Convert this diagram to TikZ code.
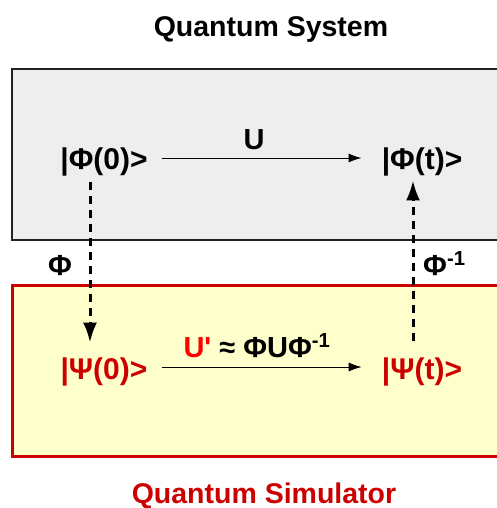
\documentclass[tikz,border=0pt]{standalone}
\usepackage{fontspec}
\setmainfont{Liberation Sans}
\usepackage{tikz}
\usetikzlibrary{arrows.meta,positioning}
\definecolor{simRed}{HTML}{CC0000}
\definecolor{simBright}{HTML}{FF0000}
\definecolor{simYellow}{HTML}{FFFFCC}
\definecolor{sysGray}{HTML}{EEEEEE}
\definecolor{sysEdge}{HTML}{222222}

\begin{document}
\begin{tikzpicture}[x=1pt, y=-1pt, font=\bfseries\fontsize{29}{34}\selectfont,
  stateNode/.style={inner sep=2pt, font=\bfseries\fontsize{30}{36}\selectfont},
  titleNode/.style={anchor=base, font=\bfseries\fontsize{28.5}{34}\selectfont},
  evolve/.style={-{Latex[length=13pt,width=9pt]}, line width=1pt},
  mapping/.style={-{Latex[length=20pt,width=14pt]}, line width=3pt, dash pattern=on 8pt off 6pt}]
\clip (0,0) rectangle (497,508);
% the two boxes
\draw[fill=sysGray, draw=sysEdge, line width=1.4pt] (12,69) rectangle (520,240);
\draw[fill=simYellow, draw=simRed, line width=3pt] (12,285) rectangle (520,456);
\node[titleNode] (sysTitle) at (271,37) {Quantum System};
\node[titleNode, simRed] (simTitle) at (264,503) {Quantum Simulator};
% states
\node[stateNode] (phi0) at (104,162) {|Φ(0)>};
\node[stateNode] (phit) at (422,162) {|Φ(t)>};
\node[stateNode, simRed] (psi0) at (104,372) {|Ψ(0)>};
\node[stateNode, simRed] (psit) at (422,372) {|Ψ(t)>};
% evolution
\draw[evolve, shorten <=12pt, shorten >=18pt] ([yshift=4pt]phi0.east) -- ([yshift=4pt]phit.west);
\draw[evolve, shorten <=12pt, shorten >=18pt] ([yshift=5pt]psi0.east) -- ([yshift=5pt]psit.west);
\node[anchor=base] (uLabel) at (254,149) {U};
\node[anchor=base] (vLabel) at (257,357) {\textcolor{simBright}{U\textquotesingle} ≈ ΦUΦ\textsuperscript{-1}};
% encoding and decoding
\draw[mapping, shorten <=4pt, shorten >=13pt] ([xshift=-14pt]phi0.south) -- ([xshift=-14pt]psi0.north);
\draw[mapping, shorten <=15pt, shorten >=2pt] ([xshift=-9pt]psit.north) -- ([xshift=-9pt]phit.south);
\node[anchor=base] (encLabel) at (60,275) {Φ};
\node[anchor=base west, inner sep=0pt] (decLabel) at (423,275) {Φ\textsuperscript{-1}};
\end{tikzpicture}
\end{document}
